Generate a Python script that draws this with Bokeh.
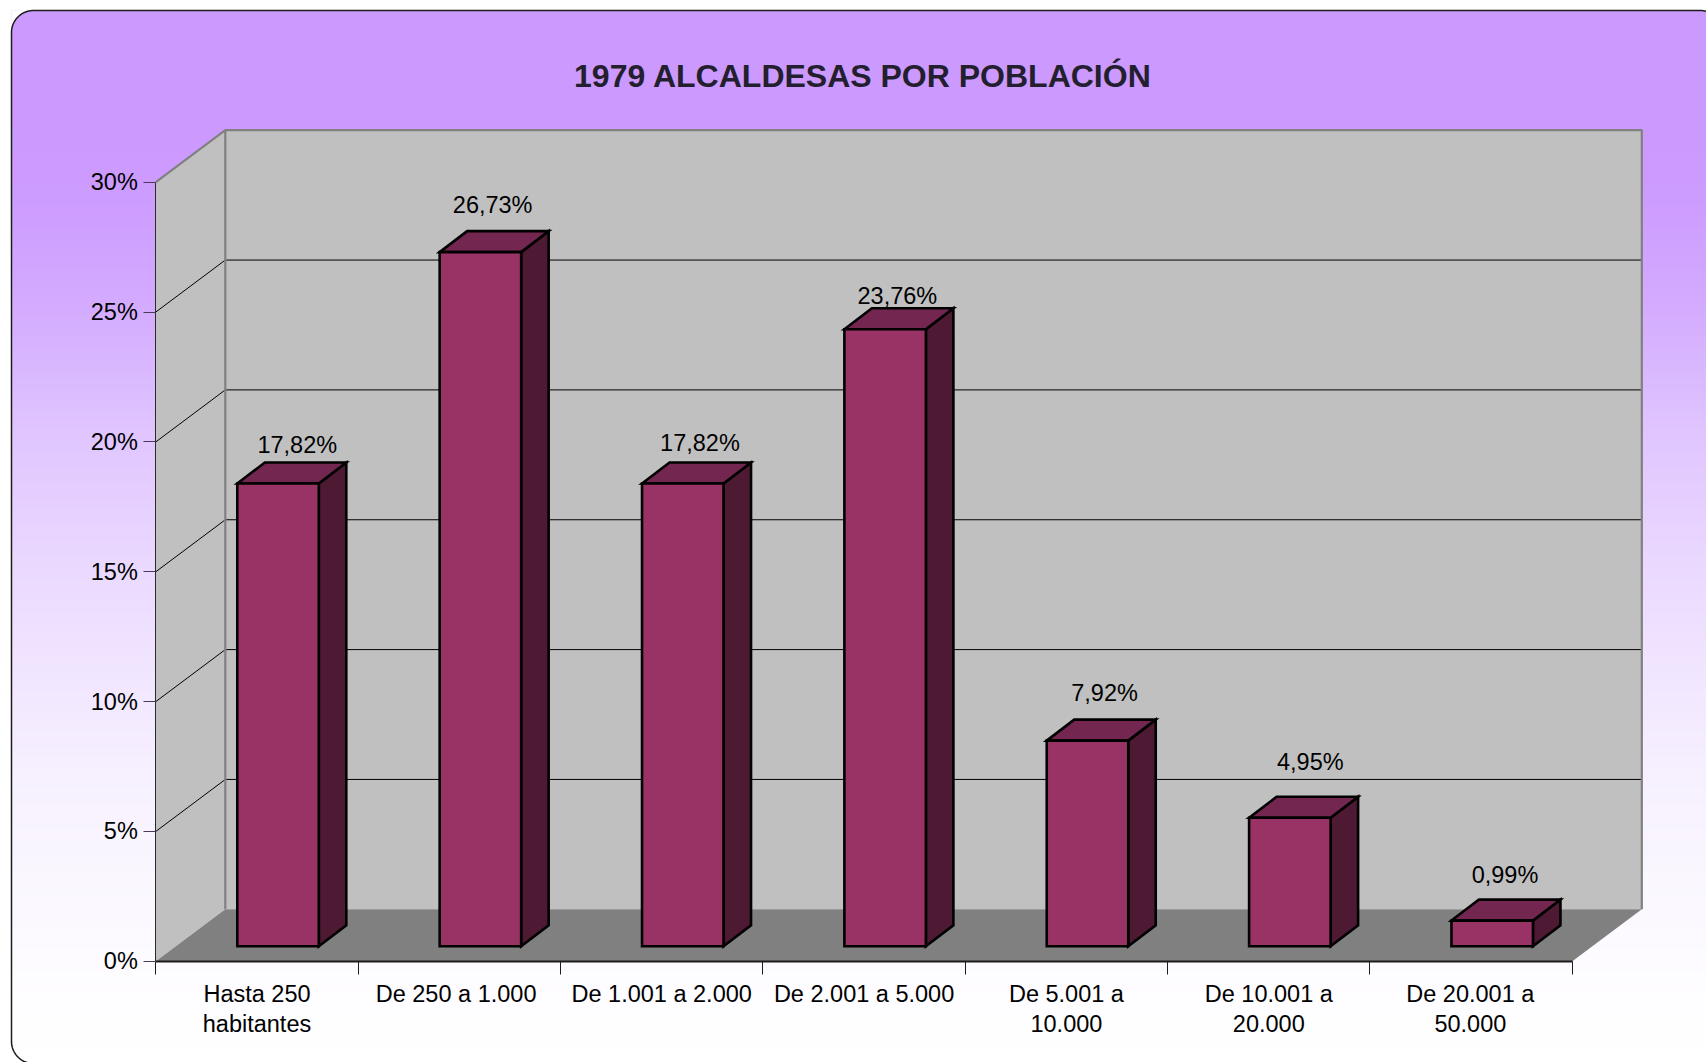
import numpy as np
from bokeh.embed import file_html
from bokeh.resources import INLINE
from bokeh.plotting import figure
from bokeh.models import ColumnDataSource, FixedTicker, LinearAxis, PrintfTickFormatter, Range1d
from bokeh.core.properties import value

# ---- data ----
title_text = "1979 ALCALDESAS POR POBLACIÓN"
categories = ["Hasta 250\nhabitantes", "De 250 a 1.000", "De 1.001 a 2.000", "De 2.001 a 5.000",
              "De 5.001 a\n10.000", "De 10.001 a\n20.000", "De 20.001 a\n50.000"]
percent_values = [17.82, 26.73, 17.82, 23.76, 7.92, 4.95, 0.99]
y_ticks = [0, 5, 10, 15, 20, 25, 30]

# ---- placement of each value label relative to its bar (pixels) ----
label_dx = [5.5, -1.5, 3.4, -1.5, 3.3, 6.7, -1]
label_dy = [-18, -26, -20, -12.5, -27, -35, -25]
# ---- small sideways nudge of the category labels (in category units) ----
cat_nudge = [0, -0.016, 0, 0, 0, 0, -0.004]

# ---- page geometry ----
W, H = 1706, 1062
PAGE = 0
X0, Y0 = 155.3, 960.8          # page pixel of (category 0, 0 %)
UX, UY = 202.36, 25.97         # pixels per category, pixels per percent


def X(px):
    return (np.asarray(px, dtype=float) - X0) / UX


def Y(py):
    return (Y0 - np.asarray(py, dtype=float)) / UY


n = len(categories)
depth_x, depth_y = 69.5 / UX, 52 / UY          # wall depth
bar_gap, bar_w = 81.5 / UX, 81.5 / UX
bar_dx, bar_dy = 27.5 / UX, 21 / UY            # bar depth
bar_base = 15 / UY
y_top = y_ticks[-1]

p = figure(width=W, height=H, output_backend="svg", toolbar_location=None,
           x_range=Range1d(float(X(PAGE)), float(X(PAGE + W))),
           y_range=Range1d(float(Y(PAGE + H)), float(Y(PAGE))),
           x_axis_location=None, y_axis_location=None, min_border=0,
           outline_line_color=None, background_fill_color="white")
p.grid.visible = False

# ---- background gradient + rounded frame ----
FL, FT, FR, FB, RAD = 11, 10, 1722, 1063, 22
stops_y = [10, 110, 200, 300, 435, 560, 660, 780, 880, 1000, 1063]
stops_r = [204, 204, 205, 211, 224, 234, 240, 247, 250, 254, 255]
stops_g = [153, 153, 156, 170, 197, 216, 228, 241, 247, 253, 255]
edges = np.arange(FT, FB + 3, 3.0)
mids = (edges[:-1] + edges[1:]) / 2
r = np.interp(mids, stops_y, stops_r).round().astype(int)
g = np.interp(mids, stops_y, stops_g).round().astype(int)
cols = [f"#{a:02x}{b:02x}ff" for a, b in zip(r, g)]
p.quad(left=float(X(FL)), right=float(X(FR)), top=Y(edges[:-1]), bottom=Y(edges[1:]) - 0.02,
       fill_color=cols, line_color=None)


def arc(cx, cy, a0, a1):
    t = np.radians(np.linspace(a0, a1, 25))
    return cx + RAD * np.cos(t), cy + RAD * np.sin(t)


# corners in page pixels (angles with y pointing down)
a_tl = arc(FL + RAD, FT + RAD, 180, 270)
a_tr = arc(FR - RAD, FT + RAD, 270, 360)
a_br = arc(FR - RAD, FB - RAD, 0, 90)
a_bl = arc(FL + RAD, FB - RAD, 90, 180)
cx = [np.r_[a_tl[0], FL], np.r_[a_tr[0], FR], np.r_[a_bl[0], FL]]
cy = [np.r_[a_tl[1], FT], np.r_[a_tr[1], FT], np.r_[a_bl[1], FB]]
p.patches([X(c).tolist() for c in cx], [Y(c).tolist() for c in cy],
          fill_color="white", line_color="white", line_width=0.5)
ox = np.r_[a_tl[0], a_tr[0], a_br[0], a_bl[0], a_tl[0][0]]
oy = np.r_[a_tl[1], a_tr[1], a_br[1], a_bl[1], a_tl[1][0]]
p.line(X(ox), Y(oy), line_color="#1c1c1c", line_width=1.5)

# ---- walls and floor ----
x_end = float(n)
p.patch([0, depth_x, depth_x, 0], [y_top, y_top + depth_y, depth_y, 0],
        fill_color="#c0c0c0", line_color=None)
p.patch([depth_x, x_end + depth_x, x_end + depth_x, depth_x],
        [depth_y, depth_y, y_top + depth_y, y_top + depth_y],
        fill_color="#c0c0c0", line_color=None)
p.patch([0, x_end, x_end + depth_x, depth_x], [0, 0, depth_y, depth_y],
        fill_color="#808080", line_color=None)

# gridlines
mid_ticks = y_ticks[1:-1]
p.segment(x0=[depth_x] * len(mid_ticks), y0=[t + depth_y for t in mid_ticks],
          x1=[x_end + depth_x] * len(mid_ticks), y1=[t + depth_y for t in mid_ticks],
          line_color="#000000", line_width=1)
p.segment(x0=[0] * len(mid_ticks), y0=mid_ticks,
          x1=[depth_x] * len(mid_ticks), y1=[t + depth_y for t in mid_ticks],
          line_color="#000000", line_width=1)

# wall edges
p.line([0, depth_x, x_end + depth_x, x_end + depth_x],
       [y_top, y_top + depth_y, y_top + depth_y, depth_y], line_color="#808080", line_width=2.2)
p.line([depth_x, depth_x], [depth_y, y_top + depth_y], line_color="#808080", line_width=2.2)

# ---- bars ----
lefts = [i + bar_gap for i in range(n)]
rights = [l + bar_w for l in lefts]
tops = [bar_base + v for v in percent_values]

side_xs = [[r_, r_ + bar_dx, r_ + bar_dx, r_] for r_ in rights]
side_ys = [[bar_base, bar_base + bar_dy, t + bar_dy, t] for t in tops]
top_xs = [[l, l + bar_dx, r_ + bar_dx, r_] for l, r_ in zip(lefts, rights)]
top_ys = [[t, t + bar_dy, t + bar_dy, t] for t in tops]
front_xs = [[l, r_, r_, l] for l, r_ in zip(lefts, rights)]
front_ys = [[bar_base, bar_base, t, t] for t in tops]

outline = dict(line_color="black", line_width=2.6, line_join="miter")
p.patches(side_xs, side_ys, fill_color="#4d1933", **outline)
p.patches(top_xs, top_ys, fill_color="#732650", **outline)
p.patches(front_xs, front_ys, fill_color="#993366", **outline)

# ---- value labels ----
labels = [f"{v:.2f}".replace(".", ",") + "%" for v in percent_values]
label_src = ColumnDataSource(dict(
    x=[l + (bar_w + bar_dx) / 2 for l in lefts],
    y=[t + bar_dy for t in tops],
    text=labels, dx=label_dx, dy=label_dy))
p.text(x="x", y="y", text="text", x_offset="dx", y_offset="dy", source=label_src,
       text_font=value("Liberation Sans"), text_font_size=value("23.5px"),
       text_color="black", text_align="center", text_baseline="middle")

# ---- title ----
p.text(x=[float(X(862.5))], y=[float(Y(75))], text=[title_text],
       text_font=value("Liberation Sans"), text_font_style="bold", text_font_size=value("32px"),
       text_color="#231f2e", text_align="center", text_baseline="middle")

# ---- axes ----
y_axis = LinearAxis(fixed_location=0, ticker=FixedTicker(ticks=y_ticks), bounds=(0, y_top),
                    formatter=PrintfTickFormatter(format="%d%%"),
                    major_tick_in=0, major_tick_out=12, minor_tick_line_color=None,
                    major_tick_line_color="#4a3a5a", major_tick_line_width=1,
                    axis_line_color="#2a2a2a", axis_line_width=1,
                    major_label_standoff=6, major_label_text_font="Liberation Sans",
                    major_label_text_font_size="23.5px", major_label_text_color="black")
p.add_layout(y_axis, "left")

label_ticks = [i + 0.5 + d for i, d in enumerate(cat_nudge)]
x_axis = LinearAxis(fixed_location=0, bounds=(0, n),
                    ticker=FixedTicker(ticks=label_ticks, minor_ticks=list(range(n + 1))),
                    major_label_overrides=dict(zip(label_ticks, categories)),
                    major_tick_line_color=None, major_tick_in=0, major_tick_out=0,
                    minor_tick_line_color="#1c1c1c", minor_tick_line_width=1,
                    minor_tick_in=0, minor_tick_out=13,
                    axis_line_color="#1c1c1c", axis_line_width=2,
                    major_label_standoff=7, major_label_text_font="Liberation Sans",
                    major_label_text_font_size="23.5px", major_label_text_color="black",
                    major_label_text_line_height=1.15)
p.add_layout(x_axis, "below")

open("out.html", "w").write(file_html(p, INLINE))
